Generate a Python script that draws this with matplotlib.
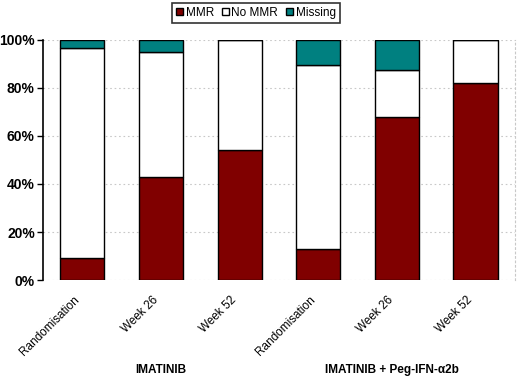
import matplotlib
matplotlib.use("Agg")
import matplotlib.pyplot as plt
import matplotlib.transforms as mtransforms
import numpy as np

plt.rcParams['font.family'] = ['Liberation Sans', 'DejaVu Sans']

categories = ["Randomisation", "Week 26", "Week 52", "Randomisation", "Week 26", "Week 52"]
groups = ["IMATINIB", "IMATINIB + Peg-IFN-\u03b12b"]
mmr = [9, 43, 54, 13, 68, 82]
no_mmr = [87.5, 52, 46, 76.5, 19.5, 18]
missing = [3.5, 5, 0, 10.5, 12.5, 0]
yticks = [0, 20, 40, 60, 80, 100]

fig = plt.figure(figsize=(5.2, 3.8), dpi=100)
ax = fig.add_axes([0.083, 0.263, 0.907, 0.632])

x = np.arange(len(categories))
w = 0.56
kw = dict(width=w, edgecolor='black', linewidth=1.0, zorder=3)
b1 = ax.bar(x, mmr, color='#800000', label='MMR', **kw)
b2 = ax.bar(x, no_mmr, bottom=mmr, color='white', label='No MMR', **kw)
b3 = ax.bar(x, missing, bottom=np.array(mmr) + np.array(no_mmr), color='#008080', label='Missing', **kw)

ax.set_xlim(-0.5, len(categories) - 0.5)
ax.set_ylim(0, 100)
ax.set_yticks(yticks)
ax.set_yticklabels([f"{v}%" for v in yticks], fontsize=10, fontweight='bold')
ax.yaxis.grid(True, linestyle=(0, (1.5, 2.5)), color='#c8c8c8', linewidth=0.8, zorder=0)
ax.set_axisbelow(True)

ax.set_xticks(x)
ax.set_xticklabels(categories, rotation=45, ha='right', va='center', rotation_mode='anchor', fontsize=8.5)
ax.tick_params(axis='x', length=0, pad=13)
ax.tick_params(axis='y', length=4, width=1, direction='out', pad=2)
offset = mtransforms.ScaledTranslation(-5 / 100, 0, fig.dpi_scale_trans)
for lab in ax.get_xticklabels():
    lab.set_transform(lab.get_transform() + offset)

for s in ['top', 'bottom']:
    ax.spines[s].set_visible(False)
ax.spines['right'].set_linestyle((0, (1.5, 2.5)))
ax.spines['right'].set_color('#c8c8c8')
ax.spines['left'].set_color('black')
ax.spines['left'].set_linewidth(1.2)

fig.text(161 / 520, 1 - 370 / 380, groups[0], ha='center', va='center', fontsize=8.5, fontweight='bold')
fig.text(392 / 520, 1 - 370 / 380, groups[1], ha='center', va='center', fontsize=8.5, fontweight='bold')

leg = fig.legend(handles=[b1, b2, b3], loc='center', bbox_to_anchor=(256 / 520, 1 - 13 / 380),
                 ncol=3, fontsize=8.5, frameon=True, fancybox=False, edgecolor='black',
                 handlelength=0.55, handleheight=0.55, handletextpad=0.25, columnspacing=0.7,
                 borderpad=0.35)
leg.get_frame().set_linewidth(1.2)

fig.savefig("out.png", dpi=100)
